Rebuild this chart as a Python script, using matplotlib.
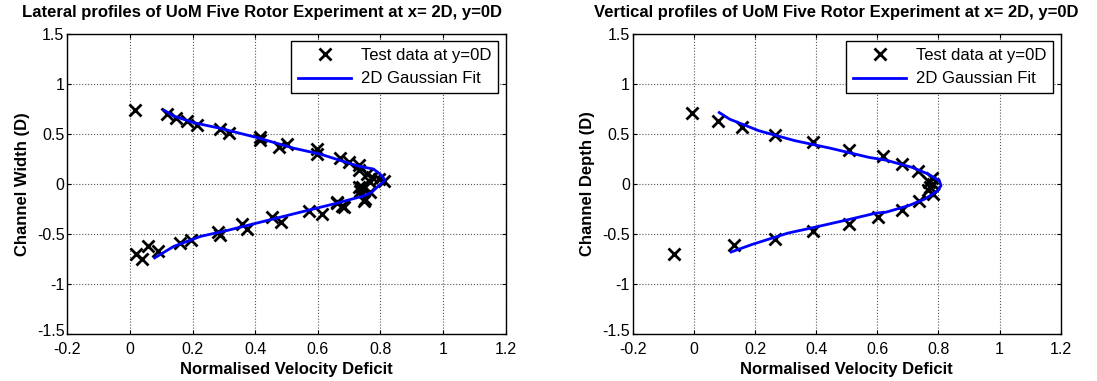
import numpy as np
import matplotlib.pyplot as plt
from matplotlib.transforms import ScaledTranslation

plt.rcParams['font.family'] = ['Liberation Sans', 'DejaVu Sans']

# lateral profile (y = 0D), test data
lat_def = [0.015, 0.119, 0.146, 0.183, 0.215, 0.289, 0.316, 0.415, 0.415, 0.476,
           0.502, 0.598, 0.598, 0.672, 0.699, 0.733, 0.730, 0.757, 0.772, 0.794,
           0.810, 0.767, 0.741, 0.735, 0.767, 0.751, 0.746, 0.731, 0.677, 0.661,
           0.683, 0.662, 0.614, 0.571, 0.481, 0.454, 0.374, 0.359, 0.287, 0.281,
           0.194, 0.160, 0.089, 0.057, 0.039, 0.018]
lat_pos = [0.738, 0.695, 0.656, 0.629, 0.586, 0.553, 0.513, 0.473, 0.437, 0.371,
           0.404, 0.348, 0.298, 0.265, 0.225, 0.190, 0.139, 0.099, 0.066, 0.050,
           0.033, 0.017, -0.033, -0.066, -0.083, -0.149, -0.166, -0.033, -0.215, -0.182,
           -0.225, -0.189, -0.298, -0.265, -0.381, -0.331, -0.447, -0.404, -0.513, -0.480,
           -0.556, -0.589, -0.669, -0.623, -0.745, -0.702]

# lateral 2D gaussian fit
lat_fit_def = [0.109, 0.140, 0.204, 0.289, 0.406, 0.523, 0.609, 0.726, 0.778, 0.799,
               0.815, 0.789, 0.772, 0.741, 0.731, 0.651, 0.545, 0.417, 0.311, 0.226,
               0.140, 0.079]
lat_fit_pos = [0.738, 0.679, 0.613, 0.556, 0.464, 0.358, 0.298, 0.182, 0.149, 0.099,
               0.040, -0.033, -0.083, -0.126, -0.132, -0.199, -0.281, -0.381, -0.464, -0.523,
               -0.623, -0.738]

# vertical profile (y = 0D), test data
ver_def = [-0.007, 0.080, 0.157, 0.265, 0.388, 0.508, 0.617, 0.682, 0.733, 0.779,
           0.768, 0.782, 0.772, 0.766, 0.782, 0.737, 0.682, 0.603, 0.508, 0.388,
           0.265, 0.130, -0.064]
ver_pos = [0.714, 0.632, 0.566, 0.493, 0.418, 0.338, 0.281, 0.205, 0.132, 0.060,
           0.023, 0.000, -0.033, -0.060, -0.100, -0.166, -0.258, -0.331, -0.404, -0.470,
           -0.546, -0.613, -0.695]

# vertical 2D gaussian fit
ver_fit_def = [0.083, 0.117, 0.212, 0.329, 0.446, 0.573, 0.629, 0.714, 0.766, 0.803,
               0.808, 0.798, 0.756, 0.703, 0.629, 0.595, 0.503, 0.398, 0.308, 0.191,
               0.122]
ver_fit_pos = [0.714, 0.648, 0.533, 0.434, 0.358, 0.266, 0.238, 0.166, 0.100, 0.033,
               -0.017, -0.066, -0.149, -0.215, -0.281, -0.291, -0.357, -0.430, -0.490, -0.603,
               -0.679]

xticks = [-0.2, 0, 0.2, 0.4, 0.6, 0.8, 1, 1.2]
yticks = [-1.5, -1, -0.5, 0, 0.5, 1, 1.5]


def fmt(v):
    return ('%g' % v)


def profile(ax, d, p, fd, fp, title, title_x, ylabel):
    ax.plot(d, p, 'x', color='k', ms=8.5, mew=2, label='Test data at y=0D')
    ax.plot(fd, fp, '-', color='#0000ff', lw=2, label='2D Gaussian Fit')
    ax.set_xlim(-0.2, 1.2)
    ax.set_ylim(-1.5, 1.5)
    ax.set_xticks(xticks)
    ax.set_yticks(yticks)
    ax.set_xticklabels([fmt(v) for v in xticks])
    ax.set_yticklabels([fmt(v) for v in yticks])
    ax.tick_params(direction='in', length=3, top=True, right=True, labelsize=11.5,
                   width=0.8)
    ax.tick_params(axis='x', pad=6)
    ax.tick_params(axis='y', pad=2)
    # nudge the bottom y label up so it clears the first x label
    lbl = ax.get_yticklabels()[0]
    lbl.set_transform(lbl.get_transform() + ScaledTranslation(0, 3 / 72, ax.figure.dpi_scale_trans))
    ax.grid(True, linestyle=':', color='#555555', lw=0.8)
    for s in ax.spines.values():
        s.set_linewidth(1.0)
    ax.set_title(title, x=title_x, fontsize=12, fontweight='bold', pad=12)
    ax.set_xlabel('Normalised Velocity Deficit', fontsize=12, fontweight='bold', labelpad=3)
    ax.set_ylabel(ylabel, fontsize=12, fontweight='bold', labelpad=5)
    leg = ax.legend(loc='upper right', fontsize=12, fancybox=False, framealpha=1,
                    edgecolor='k', borderaxespad=0.45, handlelength=3.2,
                    borderpad=0.4, labelspacing=0.5, handletextpad=0.6)
    leg.get_frame().set_linewidth(1.0)


fig = plt.figure(figsize=(10.97, 3.81), dpi=100)
ax1 = fig.add_axes([0.0613, 0.123, 0.3997, 0.788])
ax2 = fig.add_axes([0.5768, 0.123, 0.3902, 0.788])

profile(ax1, lat_def, lat_pos, lat_fit_def, lat_fit_pos,
        'Lateral profiles of UoM Five Rotor Experiment at x= 2D, y=0D', 0.445, 'Channel Width (D)')
profile(ax2, ver_def, ver_pos, ver_fit_def, ver_fit_pos,
        'Vertical profiles of UoM Five Rotor Experiment at x= 2D, y=0D', 0.475, 'Channel Depth (D)')

fig.savefig('out.png', dpi=100)
